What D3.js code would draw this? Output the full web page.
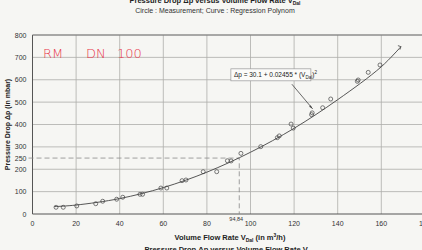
<!DOCTYPE html>
<html>
<head>
<meta charset="utf-8">
<script src="https://cdn.jsdelivr.net/npm/d3@7"></script>
<style>
  body { margin: 0; background: #f6f6f3; }
  svg { display: block; font-family: "Liberation Sans", Arial, sans-serif; }
</style>
</head>
<body>
<svg id="chart"></svg>
<script>
// measured points (Volume flow rate m3/h, pressure drop mbar)
const flow = [10.8, 14.1, 20.3, 29, 32.2, 38.6, 41.4, 49.3, 50.5, 58.9, 61.6, 68.6, 70.4, 78.3, 84.5,
  89.4, 91.1, 95.6, 104.7, 112.3, 113.2, 118.6, 119.6, 128, 128.3, 133.1, 136.8, 149, 149.4, 154, 159.4];
const dp = [30, 30, 36, 46, 57, 66, 75, 88, 88, 116, 116, 149, 152, 189, 189,
  238, 237, 271, 301, 341, 349, 402, 384, 444, 452, 475, 514, 593, 599, 633, 666];

// regression curve
const curveX = [10, 20, 40, 60, 80, 100, 120, 140, 160, 169];
const curveY = [33, 40, 69, 118, 187, 276, 383, 511, 658, 748];

const xTicks = [0, 20, 40, 60, 80, 100, 120, 140, 160, 180];
const yTicks = [0, 100, 200, 250, 300, 400, 500, 600, 700, 800];
const markX = 94.84, markY = 250;
const note = ['RM', 'DN', '100'];

const width = 422, height = 250;
const margin = {top: 35, left: 32.5, bottom: 36};

const svg = d3.select('#chart').attr('width', width).attr('height', height);

const x = d3.scaleLinear().domain([0, 180]).range([margin.left, margin.left + 180 * 2.18]);
const y = d3.scaleLinear().domain([0, 800]).range([height - margin.bottom, margin.top]);

// grid
const grid = svg.append('g').attr('stroke', '#adadaa').attr('stroke-width', 0.8);
grid.selectAll('line.v').data(xTicks.filter(d => d > 0)).join('line')
    .attr('x1', d => x(d)).attr('x2', d => x(d))
    .attr('y1', y(0)).attr('y2', y(800));
grid.selectAll('line.h').data(yTicks.filter(d => d > 0 && d !== 250)).join('line')
    .attr('x1', x(0)).attr('x2', x(180))
    .attr('y1', d => y(d)).attr('y2', d => y(d));

// frame
svg.append('line').attr('x1', x(0)).attr('x2', x(0)).attr('y1', y(0)).attr('y2', y(800))
    .attr('stroke', '#555').attr('stroke-width', 1);
svg.append('line').attr('x1', x(0)).attr('x2', x(180)).attr('y1', y(0)).attr('y2', y(0))
    .attr('stroke', '#555').attr('stroke-width', 1);
svg.append('line').attr('x1', x(0)).attr('x2', x(180)).attr('y1', y(800)).attr('y2', y(800))
    .attr('stroke', '#777').attr('stroke-width', 1);

// dashed reading lines
svg.append('path')
    .attr('d', `M${x(0) - 4},${y(markY)}H${x(markX)}V${y(0)}`)
    .attr('fill', 'none').attr('stroke', '#888').attr('stroke-width', 0.8)
    .attr('stroke-dasharray', '5,3');

// tick labels
svg.append('g').selectAll('text').data(xTicks).join('text')
    .attr('x', d => x(d)).attr('y', y(0) + 12)
    .attr('text-anchor', 'middle').attr('font-size', 7).attr('fill', '#333')
    .text(d => d);
svg.append('g').selectAll('text').data(yTicks).join('text')
    .attr('x', x(0) - 6).attr('y', d => y(d) + 2.5)
    .attr('text-anchor', 'end').attr('font-size', 7).attr('fill', '#333')
    .text(d => d);
svg.append('text').attr('x', x(markX) - 3).attr('y', y(0) + 7)
    .attr('text-anchor', 'middle').attr('font-size', 5.5).attr('fill', '#333')
    .text('94,84');

// regression curve
const line = d3.line().x((d, i) => x(d)).y((d, i) => y(curveY[i])).curve(d3.curveCatmullRom);
svg.append('path').datum(curveX).attr('d', line)
    .attr('fill', 'none').attr('stroke', '#444').attr('stroke-width', 0.9);

// measurement circles
svg.append('g').selectAll('circle').data(flow).join('circle')
    .attr('cx', d => x(d)).attr('cy', (d, i) => y(dp[i])).attr('r', 2)
    .attr('fill', 'none').attr('stroke', '#444').attr('stroke-width', 0.7);

// end arrow of the curve
const n = curveX.length - 1;
svg.append('path')
    .attr('d', `M${x(curveX[n]) - 3},${y(curveY[n]) - 1}L${x(curveX[n])},${y(curveY[n])}L${x(curveX[n]) - 1},${y(curveY[n]) + 3}`)
    .attr('fill', 'none').attr('stroke', '#444').attr('stroke-width', 0.8);

// formula annotation
const box = svg.append('g').attr('transform', `translate(${x(91)},${y(622)})`);
box.append('rect').attr('x', 0).attr('y', -6).attr('width', 80).attr('height', 12)
    .attr('fill', '#fbfbf9').attr('stroke', '#999').attr('stroke-width', 0.7);
const ft = box.append('text').attr('x', 3).attr('y', 2.5).attr('font-size', 6.5).attr('fill', '#222');
ft.append('tspan').text('Δp = 30.1 + 0.02455 * (V');
ft.append('tspan').attr('font-size', 4.5).attr('dy', 1.5).text('Dal');
ft.append('tspan').attr('dy', -1.5).text(')');
ft.append('tspan').attr('font-size', 4.5).attr('dy', -3).text('2');

svg.append('line').attr('x1', x(119)).attr('x2', x(128.5)).attr('y1', y(580)).attr('y2', y(470))
    .attr('stroke', '#444').attr('stroke-width', 0.8);
svg.append('path')
    .attr('d', `M${x(128.5)},${y(470)}l-3.5,-2l1.5,-1.5z`)
    .attr('fill', '#444');

// handwritten note
svg.append('g').selectAll('text').data(note).join('text')
    .attr('x', (d, i) => [43, 86, 117][i]).attr('y', 58)
    .attr('font-family', '"DejaVu Sans", sans-serif').attr('font-size', 13)
    .attr('fill', '#e8374a').attr('font-weight', 300)
    .text(d => d);

// titles
const tt = svg.append('text').attr('x', 215).attr('y', 3).attr('text-anchor', 'middle')
    .attr('font-size', 7.5).attr('font-weight', 'bold').attr('fill', '#222');
tt.append('tspan').text('Pressure Drop Δp versus Volume Flow Rate V');
tt.append('tspan').attr('font-size', 5).attr('dy', 1.5).text('Dal');
svg.append('text').attr('x', 215).attr('y', 12.5).attr('text-anchor', 'middle')
    .attr('font-size', 7).attr('fill', '#333')
    .text('Circle : Measurement; Curve : Regression Polynom');

const xt = svg.append('text').attr('x', 230).attr('y', 240).attr('text-anchor', 'middle')
    .attr('font-size', 7.5).attr('font-weight', 'bold').attr('fill', '#222');
xt.append('tspan').text('Volume Flow Rate V');
xt.append('tspan').attr('font-size', 5).attr('dy', 1.5).text('Dal');
xt.append('tspan').attr('dy', -1.5).text('  (in m');
xt.append('tspan').attr('font-size', 5).attr('dy', -3).text('3');
xt.append('tspan').attr('dy', 3).text('/h)');

const bt = svg.append('text').attr('x', 230).attr('y', 252).attr('text-anchor', 'middle')
    .attr('font-size', 7.5).attr('font-weight', 'bold').attr('fill', '#222');
bt.append('tspan').text('Pressure Drop Δp versus Volume Flow Rate V');
bt.append('tspan').attr('font-size', 5).attr('dy', 1.5).text('Dal');

svg.append('text').attr('transform', `translate(10,${y(400)}) rotate(-90)`)
    .attr('text-anchor', 'middle').attr('font-size', 7).attr('font-weight', 'bold').attr('fill', '#222')
    .text('Pressure Drop Δp  (in mbar)');
</script>
</body>
</html>
